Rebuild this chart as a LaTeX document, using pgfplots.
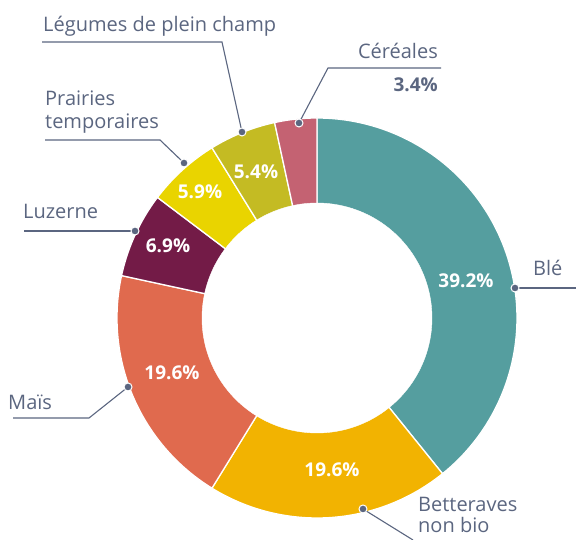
\documentclass[border=0pt]{standalone}
\usepackage{fontspec}
\setmainfont{Open Sans}
\usepackage{pgfplots}
\pgfplotsset{compat=1.18}

\definecolor{ble}{HTML}{559E9F}
\definecolor{bet}{HTML}{F2B301}
\definecolor{mais}{HTML}{E06A4E}
\definecolor{luz}{HTML}{731B47}
\definecolor{prai}{HTML}{E9D400}
\definecolor{leg}{HTML}{C4BB23}
\definecolor{cer}{HTML}{C46272}
\definecolor{slate}{HTML}{5B6680}

% centre of the ring and radii, in axis units (1 unit = 1 px)
\def\cx{317}
\def\cy{222}
\def\Rout{200}
\def\Rin{115}
\gdef\cum{0}

% one sector: #1 share in percent, #2 colour; clockwise from 12 o'clock
\newcommand\slice[2]{%
  \pgfmathsetmacro\aS{90-3.6*\cum}%
  \pgfmathsetmacro\newcum{\cum+#1}%
  \xdef\cum{\newcum}%
  \pgfmathsetmacro\aE{90-3.6*\cum}%
  \addplot[fill=#2, draw=white, line width=1.3pt, domain=\aE:\aS,
           samples=90, variable=\t]
    ({\cx+\Rout*cos(\t)},{\cy+\Rout*sin(\t)}) -- (axis cs:\cx,\cy) -- cycle;
}

\tikzset{
  lbl/.style={font=\fontsize{20}{24}\selectfont, text=slate, inner sep=0pt},
  pct/.style={font=\fontsize{19}{23}\selectfont\bfseries, text=white, inner sep=0pt},
  lead/.style={slate, line width=1.1pt, mark=*, mark indices={1},
               mark size=4pt, mark options={fill=slate, draw=white, line width=1pt}},
}

\begin{document}
\begin{tikzpicture}
\begin{axis}[
  width=576pt, height=540pt, scale only axis,
  xmin=0, xmax=576, ymin=0, ymax=540,
  axis lines=none,
  clip=true,
]
\path (rel axis cs:0,0) rectangle (rel axis cs:1,1);

\slice{39.2}{ble}
\slice{19.6}{bet}
\slice{19.6}{mais}
\slice{6.9}{luz}
\slice{5.9}{prai}
\slice{5.4}{leg}
\slice{3.4}{cer}

\addplot[fill=white, draw=white, domain=0:360, samples=180, variable=\t]
  ({\cx+\Rin*cos(\t)},{\cy+\Rin*sin(\t)}) -- cycle;

% percentages inside the ring
\node[pct] at (axis cs:466,259) {39.2\%};
\node[pct] at (axis cs:332,70) {19.6\%};
\node[pct] at (axis cs:172,167) {19.6\%};
\node[pct] at (axis cs:168,294) {6.9\%};
\node[pct] at (axis cs:200,348) {5.9\%};
\node[pct] at (axis cs:256,368) {5.4\%};

% leader lines
\addplot[lead] coordinates {(242,408) (222,498) (42,498)};
\addplot[lead] coordinates {(184,377) (160,400) (45,400)};
\addplot[lead] coordinates {(299,417) (328,472) (441,472)};
\addplot[lead] coordinates {(135,309) (24,309)};
\addplot[lead] coordinates {(128,153) (89,122) (13,122)};
\addplot[lead] coordinates {(515,252) (576,252)};
\addplot[lead] coordinates {(363,31) (413,0)};

% labels
\node[lbl, anchor=base west] at (axis cs:43,508) {Légumes de plein champ};
\node[lbl, anchor=base west] at (axis cs:45,434) {Prairies};
\node[lbl, anchor=base west] at (axis cs:45,411) {temporaires};
\node[lbl, anchor=base east] at (axis cs:438,481) {Céréales};
\node[lbl, anchor=base east, font=\fontsize{19}{23}\selectfont\bfseries] at (axis cs:438,448) {3.4\%};
\node[lbl, anchor=base west] at (axis cs:23,321) {Luzerne};
\node[lbl, anchor=base west] at (axis cs:8,130) {Maïs};
\node[lbl, anchor=base west] at (axis cs:533,264) {Blé};
\node[lbl, anchor=base west] at (axis cs:418,28) {Betteraves};
\node[lbl, anchor=base west] at (axis cs:418,7) {non bio};
\end{axis}
\end{tikzpicture}
\end{document}
